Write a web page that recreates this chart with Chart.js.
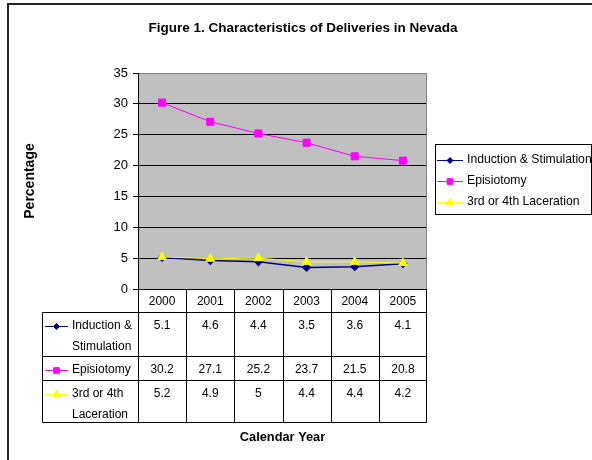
<!DOCTYPE html>
<html>
<head>
<meta charset="utf-8">
<script src="https://cdn.jsdelivr.net/npm/chart.js@4.4.1/dist/chart.umd.min.js"></script>
<style>
html, body { margin: 0; padding: 0; background: #fff; }
#chart { display: block; }
</style>
</head>
<body>
<canvas id="chart" width="592" height="460"></canvas>
<script>
let years = ['2000', '2001', '2002', '2003', '2004', '2005'];
let induction = [5.1, 4.6, 4.4, 3.5, 3.6, 4.1];
let episiotomy = [30.2, 27.1, 25.2, 23.7, 21.5, 20.8];
let laceration = [5.2, 4.9, 5, 4.4, 4.4, 4.2];
let seriesNames = ['Induction & Stimulation', 'Episiotomy', '3rd or 4th Laceration'];
let rowLabels = [['Induction &', 'Stimulation'], ['Episiotomy'], ['3rd or 4th', 'Laceration']];
let titleText = 'Figure 1. Characteristics of Deliveries in Nevada';
let yTitle = 'Percentage';
let xTitle = 'Calendar Year';

let family = 'Arial, "Liberation Sans", sans-serif';
let font = '12px ' + family;

let styles = [
    { color: '#000080', point: 'rectRot', radius: 3.5, keyRadius: 3 },
    { color: '#ff00ff', point: 'rect', radius: 5, keyRadius: 4 },
    { color: '#ffff00', point: 'triangle', radius: 5, keyRadius: 4 }
];

function marker(ctx, s, r, x, y) {
    ctx.save();
    ctx.fillStyle = s.color;
    ctx.strokeStyle = s.color;
    Chart.helpers.drawPoint(ctx, { pointStyle: s.point, radius: r, rotation: 0, borderWidth: 1 }, x, y);
    ctx.restore();
}

function keyLine(ctx, s, x1, x2, y) {
    ctx.save();
    ctx.strokeStyle = s.color;
    ctx.lineWidth = 1;
    ctx.beginPath();
    ctx.moveTo(x1, y + 0.5);
    ctx.lineTo(x2, y + 0.5);
    ctx.stroke();
    ctx.restore();
    marker(ctx, s, s.keyRadius, (x1 + x2) / 2, y + 0.5);
}

let plotBackground = {
    id: 'plotBackground',
    beforeDraw(chart) {
        let ctx = chart.ctx;
        let a = chart.chartArea;
        ctx.save();
        ctx.fillStyle = '#c0c0c0';
        ctx.fillRect(a.left, a.top, a.right - a.left, a.bottom - a.top);
        ctx.restore();
    },
    beforeDatasetsDraw(chart) {
        let ctx = chart.ctx;
        let a = chart.chartArea;
        ctx.save();
        ctx.strokeStyle = '#808080';
        ctx.lineWidth = 1;
        ctx.beginPath();
        ctx.moveTo(Math.round(a.right) - 0.5, a.top);
        ctx.lineTo(Math.round(a.right) - 0.5, a.bottom);
        ctx.stroke();
        ctx.restore();
    }
};

let decorations = {
    id: 'decorations',
    afterDraw(chart) {
        let ctx = chart.ctx;
        let a = chart.chartArea;
        let xs = chart.scales.x;
        let data = chart.data.datasets.map(d => d.data);
        let left = Math.round(a.left) + 0.5;
        let right = Math.round(a.right) - 0.5;
        let top = Math.round(a.bottom) + 0.5;
        let rows = [top, top + 23, top + 67, top + 91, top + 133];
        let labelLeft = 42.5;
        let colW = (a.right - a.left) / years.length;

        ctx.save();
        // outer frame
        ctx.fillStyle = '#222';
        ctx.fillRect(7, 3, 2, 457);
        ctx.fillRect(7, 3, 585, 2);

        // table grid
        ctx.strokeStyle = '#000';
        ctx.lineWidth = 1;
        ctx.beginPath();
        ctx.moveTo(left, rows[0]);
        ctx.lineTo(right, rows[0]);
        for (let i = 1; i < rows.length; i++) {
            ctx.moveTo(labelLeft, rows[i]);
            ctx.lineTo(right, rows[i]);
        }
        ctx.moveTo(labelLeft, rows[1]);
        ctx.lineTo(labelLeft, rows[4]);
        for (let i = 0; i <= years.length; i++) {
            let cx = Math.round(a.left + i * colW) + 0.5;
            if (i == years.length) cx = right;
            ctx.moveTo(cx, rows[0]);
            ctx.lineTo(cx, rows[4]);
        }
        ctx.stroke();

        // table text
        ctx.fillStyle = '#000';
        ctx.font = font;
        ctx.textBaseline = 'middle';
        ctx.textAlign = 'center';
        years.forEach((yr, i) => {
            let cx = xs.getPixelForValue(i);
            ctx.fillText(yr, cx, rows[0] + 12);
            data.forEach((d, r) => {
                ctx.fillText(String(d[i]), cx, rows[r + 1] + 13);
            });
        });
        ctx.textAlign = 'left';
        rowLabels.forEach((lines, r) => {
            lines.forEach((t, k) => ctx.fillText(t, 72, rows[r + 1] + 13 + k * 21));
        });
        rowLabels.forEach((lines, r) => keyLine(ctx, styles[r], 45, 68, Math.round(rows[r + 1] + 13)));

        // legend
        ctx.fillStyle = '#fff';
        ctx.fillRect(435.5, 144.5, 156, 70);
        ctx.strokeStyle = '#000';
        ctx.strokeRect(435.5, 144.5, 156, 70);
        ctx.fillStyle = '#000';
        ctx.font = '12.2px ' + family;
        seriesNames.forEach((n, i) => {
            let y = 160 + i * 21;
            ctx.fillText(n, 467, y);
            keyLine(ctx, styles[i], 437, 463, y);
        });

        // titles
        ctx.fillStyle = '#000';
        ctx.textAlign = 'center';
        ctx.font = 'bold 13.5px ' + family;
        ctx.fillText(titleText, 303, 28);
        ctx.font = 'bold 12.8px ' + family;
        ctx.fillText(xTitle, (a.left + a.right) / 2, 437);
        ctx.restore();
    }
};

let datasets = [induction, episiotomy, laceration].map((d, i) => ({
    label: seriesNames[i],
    data: d,
    borderColor: styles[i].color,
    backgroundColor: styles[i].color,
    pointBackgroundColor: styles[i].color,
    pointBorderColor: styles[i].color,
    pointStyle: styles[i].point,
    pointRadius: styles[i].radius,
    borderWidth: i == 0 ? 1.5 : 1,
    tension: 0,
    order: 2 - i
}));

new Chart(document.getElementById('chart').getContext('2d'), {
    type: 'line',
    data: { labels: years, datasets: datasets },
    options: {
        responsive: false,
        animation: false,
        devicePixelRatio: 1,
        layout: { padding: { left: 14, right: 165, top: 73, bottom: 171 } },
        plugins: {
            legend: { display: false },
            title: { display: false },
            tooltip: { enabled: false }
        },
        scales: {
            x: {
                display: false,
                offset: true,
                grid: { display: false }
            },
            y: {
                min: 0,
                max: 35,
                afterFit(scale) { scale.width = 124; },
                ticks: {
                    stepSize: 5,
                    padding: 5,
                    color: '#000',
                    font: { family: family, size: 13 }
                },
                grid: {
                    color: c => c.tick && c.tick.value == 35 ? '#808080' : '#000',
                    tickColor: '#000',
                    tickLength: 5,
                    lineWidth: 1
                },
                border: { color: '#000', width: 1 },
                title: {
                    display: true,
                    text: yTitle,
                    color: '#000',
                    padding: { top: 8, bottom: 0 },
                    font: { family: family, size: 14, weight: 'bold' }
                }
            }
        }
    },
    plugins: [plotBackground, decorations]
});
</script>
</body>
</html>
